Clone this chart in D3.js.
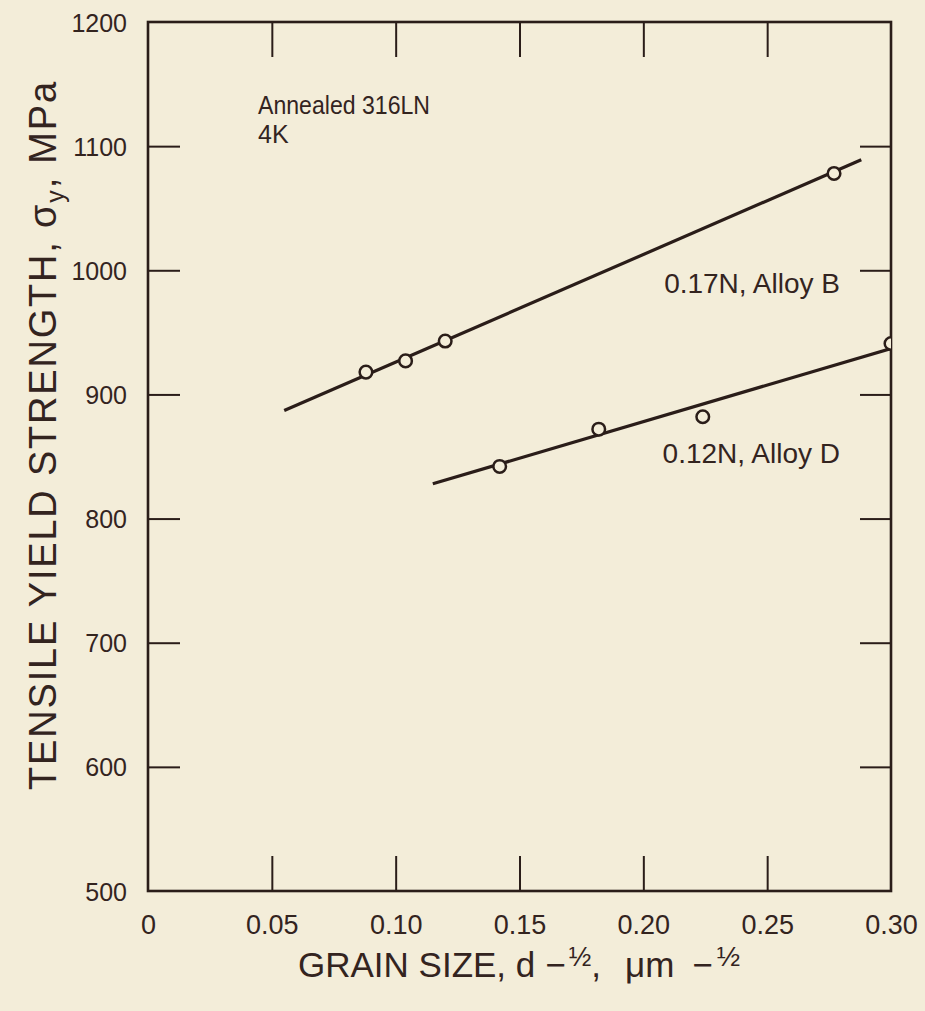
<!DOCTYPE html>
<html><head><meta charset="utf-8">
<script src="https://cdn.jsdelivr.net/npm/d3@7"></script>
<style>
html,body{margin:0;padding:0;background:#f3edd9;}
svg{display:block;}
text{font-family:"Liberation Sans",Arial,Helvetica,sans-serif;fill:#33241f;}
</style></head>
<body>
<script>
// ---- data ----
const xTicks = [0, 0.05, 0.10, 0.15, 0.20, 0.25, 0.30];
const xTickLabels = ["0", "0.05", "0.10", "0.15", "0.20", "0.25", "0.30"];
const yTicks = [500, 600, 700, 800, 900, 1000, 1100, 1200];
const yTickLabels = ["500", "600", "700", "800", "900", "1000", "1100", "1200"];

const alloyBx = [0.088, 0.104, 0.120, 0.277];
const alloyBy = [918, 927, 943, 1078];
const alloyBFitX = [0.055, 0.288];
const alloyBFitY = [887, 1089];

const alloyDx = [0.142, 0.182, 0.224, 0.300];
const alloyDy = [842, 872, 882, 941];
const alloyDFitX = [0.115, 0.300];
const alloyDFitY = [828, 937];

const seriesLabels = ["0.17N, Alloy B", "0.12N, Alloy D"];
const noteLines = ["Annealed 316LN", "4K"];

// ---- layout ----
const W = 925, H = 1011;
const m = {left: 148, right: 925 - 891, top: 22, bottom: 1011 - 891};
const ink = "#2a1d19";
const bg = "#f3edd9";

const svg = d3.select("body").append("svg").attr("width", W).attr("height", H);
const x = d3.scaleLinear().domain([0, 0.30]).range([m.left, W - m.right]);
const y = d3.scaleLinear().domain([500, 1200]).range([H - m.bottom, m.top]);

svg.append("defs").append("clipPath").attr("id", "plotclip")
  .append("rect").attr("x", x(0)).attr("y", y(1200))
  .attr("width", x(0.30) - x(0)).attr("height", y(500) - y(1200));

// axes with inward ticks
const gB = svg.append("g").attr("transform", `translate(0,${y(500)})`)
  .call(d3.axisBottom(x).tickValues(xTicks).tickSizeInner(-35).tickSizeOuter(0)
    .tickFormat((d, i) => xTickLabels[i]).tickPadding(0));
gB.selectAll("text").attr("dy", null).attr("y", 43).style("font-size", "27px");

const gT = svg.append("g").attr("transform", `translate(0,${y(1200)})`)
  .call(d3.axisTop(x).tickValues(xTicks).tickSizeInner(-35).tickSizeOuter(0).tickFormat(""));

const gL = svg.append("g").attr("transform", `translate(${x(0)},0)`)
  .call(d3.axisLeft(y).tickValues(yTicks).tickSizeInner(-32).tickSizeOuter(0)
    .tickFormat((d, i) => yTickLabels[i]).tickPadding(0));
gL.selectAll("text").attr("x", -21).attr("dy", "0.36em").style("font-size", "25px");

const gR = svg.append("g").attr("transform", `translate(${x(0.30)},0)`)
  .call(d3.axisRight(y).tickValues(yTicks).tickSizeInner(-31).tickSizeOuter(0).tickFormat(""));

[gB, gT, gL, gR].forEach(g => {
  g.select(".domain").remove();
  g.selectAll("line").attr("stroke", ink).attr("stroke-width", 2);
});
gB.selectAll(".tick").filter(d => d === 0 || d === 0.30).select("line").remove();
gT.selectAll(".tick").filter(d => d === 0 || d === 0.30).select("line").remove();
gL.selectAll(".tick").filter(d => d === 500 || d === 1200).select("line").remove();
gR.selectAll(".tick").filter(d => d === 500 || d === 1200).select("line").remove();

// frame
svg.append("rect").attr("x", x(0)).attr("y", y(1200))
  .attr("width", x(0.30) - x(0)).attr("height", y(500) - y(1200))
  .attr("fill", "none").attr("stroke", ink).attr("stroke-width", 2.6);

// fit lines
const line = d3.line().x(d => x(d[0])).y(d => y(d[1]));
const plot = svg.append("g").attr("clip-path", "url(#plotclip)");
[[alloyBFitX, alloyBFitY], [alloyDFitX, alloyDFitY]].forEach(([fx, fy]) => {
  plot.append("path").datum(fx.map((v, i) => [v, fy[i]]))
    .attr("d", line).attr("fill", "none").attr("stroke", ink).attr("stroke-width", 3.2);
});

// points
[[alloyBx, alloyBy], [alloyDx, alloyDy]].forEach(([px, py]) => {
  plot.selectAll(null).data(px.map((v, i) => [v, py[i]])).enter().append("circle")
    .attr("cx", d => x(d[0])).attr("cy", d => y(d[1])).attr("r", 6.3)
    .attr("fill", bg).attr("stroke", ink).attr("stroke-width", 2.5);
});

// series labels
svg.append("text").attr("x", 840).attr("y", 293).attr("text-anchor", "end")
  .style("font-size", "28px").text(seriesLabels[0]);
svg.append("text").attr("x", 840).attr("y", 463).attr("text-anchor", "end")
  .style("font-size", "28px").text(seriesLabels[1]);

// note
svg.append("text").attr("x", 258).attr("y", 114).style("font-size", "25px")
  .attr("textLength", 172).attr("lengthAdjust", "spacingAndGlyphs").text(noteLines[0]);
svg.append("text").attr("x", 258).attr("y", 143).style("font-size", "25px").text(noteLines[1]);

// x axis title
const xt = svg.append("text").attr("x", 298).attr("y", 977).style("font-size", "35px");
xt.append("tspan").text("GRAIN SIZE, d");
xt.append("tspan").attr("dx", 10).text("\u2212");
xt.append("tspan").attr("dx", 3).attr("dy", -11).style("font-size", "27px").text("\u00bd");
xt.append("tspan").attr("dy", 11).text(",");
xt.append("tspan").attr("dx", 24).text("\u03bcm");
xt.append("tspan").attr("dx", 18).text("\u2212");
xt.append("tspan").attr("dx", 4).attr("dy", -11).style("font-size", "28px").text("\u00bd");

// y axis title
const yt = svg.append("text").attr("transform", "translate(56,435) rotate(-90)")
  .attr("text-anchor", "middle").style("font-size", "38px").style("letter-spacing", "1.8px");
yt.append("tspan").text("TENSILE YIELD STRENGTH, \u03c3");
yt.append("tspan").attr("dy", 8).style("font-size", "25px").text("y");
yt.append("tspan").attr("dy", -8).text(", MPa");
</script>
</body></html>
